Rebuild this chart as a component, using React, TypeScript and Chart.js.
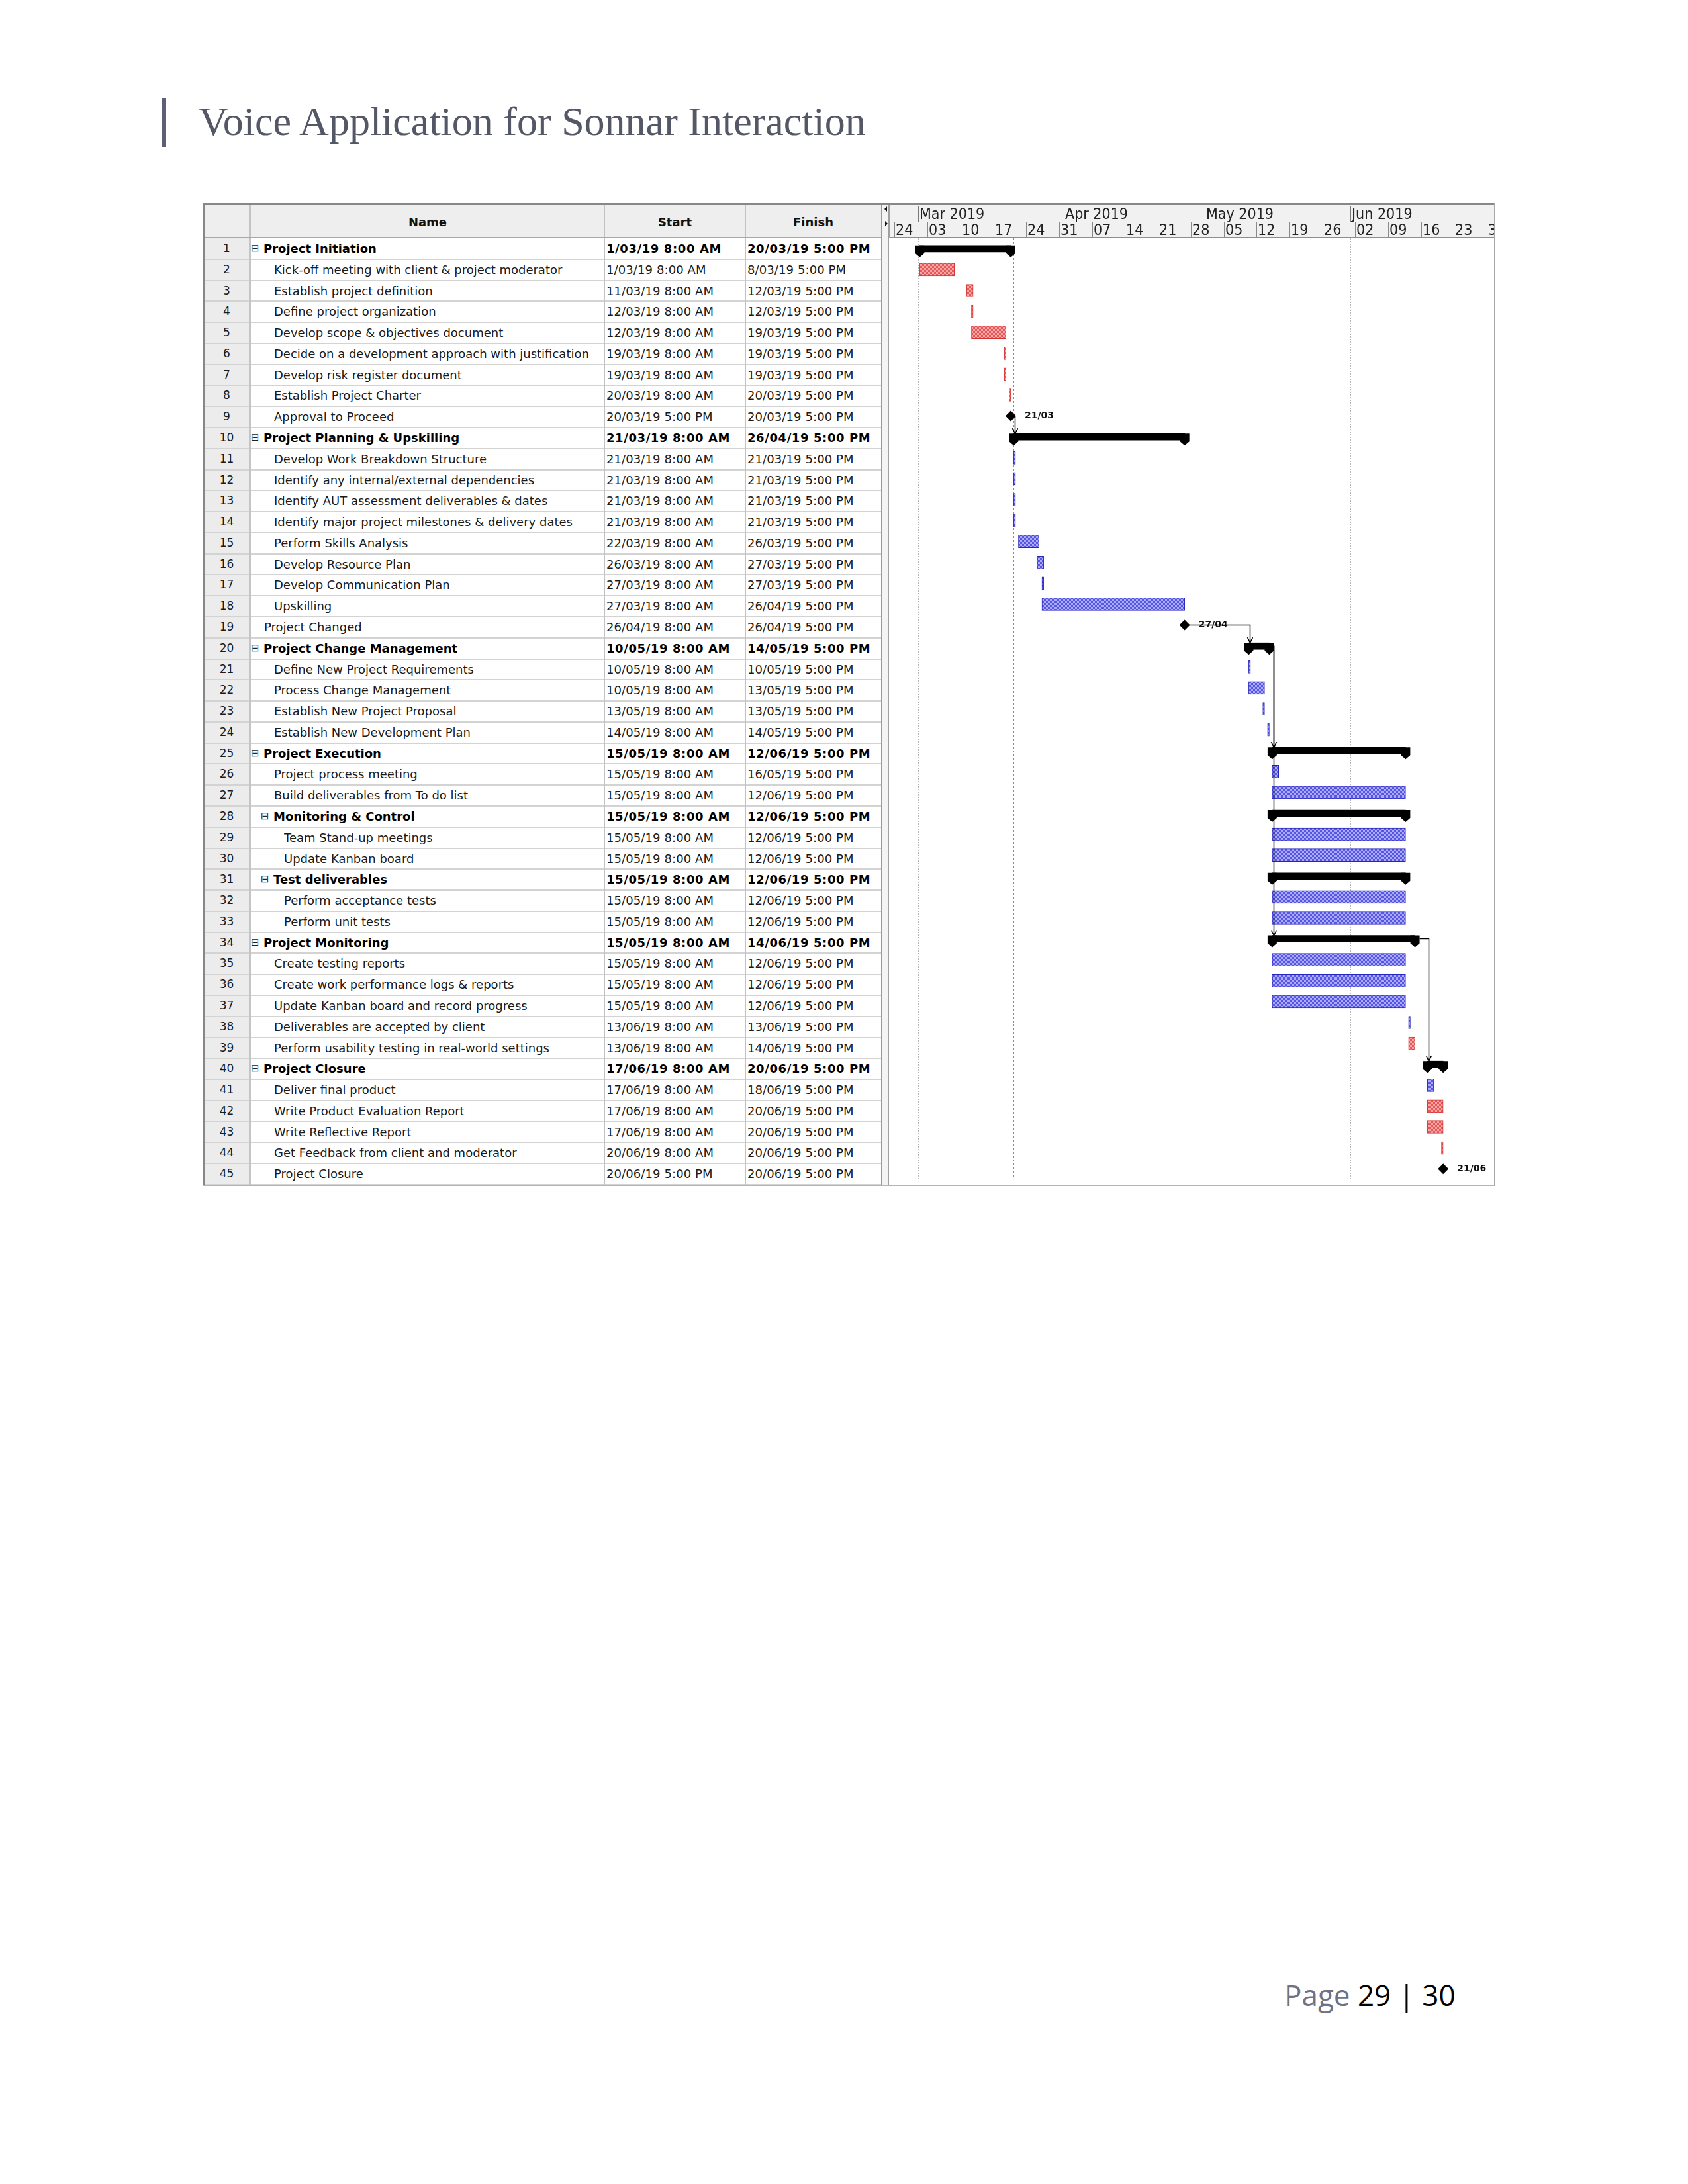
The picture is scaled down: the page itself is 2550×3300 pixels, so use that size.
import React, { useEffect, useRef } from "react";
import { Chart, registerables } from "chart.js";

Chart.register(...registerables);

// ---------------- DATA ----------------
const taskIds = [
  "1", "2", "3", "4", "5", "6", "7", "8", "9", "10",
  "11", "12", "13", "14", "15", "16", "17", "18", "19", "20",
  "21", "22", "23", "24", "25", "26", "27", "28", "29", "30",
  "31", "32", "33", "34", "35", "36", "37", "38", "39", "40",
  "41", "42", "43", "44", "45",
];

const taskNames = [
  "Project Initiation",
  "Kick-off meeting with client & project moderator",
  "Establish project definition",
  "Define project organization",
  "Develop scope & objectives document",
  "Decide on a development approach with justification",
  "Develop risk register document",
  "Establish Project Charter",
  "Approval to Proceed",
  "Project Planning & Upskilling",
  "Develop Work Breakdown Structure",
  "Identify any internal/external dependencies",
  "Identify AUT assessment deliverables & dates",
  "Identify major project milestones & delivery dates",
  "Perform Skills Analysis",
  "Develop Resource Plan",
  "Develop Communication Plan",
  "Upskilling",
  "Project Changed",
  "Project Change Management",
  "Define New Project Requirements",
  "Process Change Management",
  "Establish New Project Proposal",
  "Establish New Development Plan",
  "Project Execution",
  "Project process meeting",
  "Build deliverables from To do list",
  "Monitoring & Control",
  "Team Stand-up meetings",
  "Update Kanban board",
  "Test deliverables",
  "Perform acceptance tests",
  "Perform unit tests",
  "Project Monitoring",
  "Create testing reports",
  "Create work performance logs & reports",
  "Update Kanban board and record progress",
  "Deliverables are accepted by client",
  "Perform usability testing in real-world settings",
  "Project Closure",
  "Deliver final product",
  "Write Product Evaluation Report",
  "Write Reflective Report",
  "Get Feedback from client and moderator",
  "Project Closure",
];

const taskLevels = [
  0, 1, 1, 1, 1, 1, 1, 1, 1, 0,
  1, 1, 1, 1, 1, 1, 1, 1, 0, 0,
  1, 1, 1, 1, 0, 1, 1, 1, 2, 2,
  1, 2, 2, 0, 1, 1, 1, 1, 1, 0,
  1, 1, 1, 1, 1,
];

// S = summary, T = task, M = milestone
const taskKinds = [
  "S", "T", "T", "T", "T", "T", "T", "T", "M", "S",
  "T", "T", "T", "T", "T", "T", "T", "T", "M", "S",
  "T", "T", "T", "T", "S", "T", "T", "S", "T", "T",
  "S", "T", "T", "S", "T", "T", "T", "T", "T", "S",
  "T", "T", "T", "T", "M",
];

const startTexts = [
  "1/03/19 8:00 AM", "1/03/19 8:00 AM", "11/03/19 8:00 AM", "12/03/19 8:00 AM", "12/03/19 8:00 AM",
  "19/03/19 8:00 AM", "19/03/19 8:00 AM", "20/03/19 8:00 AM", "20/03/19 5:00 PM", "21/03/19 8:00 AM",
  "21/03/19 8:00 AM", "21/03/19 8:00 AM", "21/03/19 8:00 AM", "21/03/19 8:00 AM", "22/03/19 8:00 AM",
  "26/03/19 8:00 AM", "27/03/19 8:00 AM", "27/03/19 8:00 AM", "26/04/19 8:00 AM", "10/05/19 8:00 AM",
  "10/05/19 8:00 AM", "10/05/19 8:00 AM", "13/05/19 8:00 AM", "14/05/19 8:00 AM", "15/05/19 8:00 AM",
  "15/05/19 8:00 AM", "15/05/19 8:00 AM", "15/05/19 8:00 AM", "15/05/19 8:00 AM", "15/05/19 8:00 AM",
  "15/05/19 8:00 AM", "15/05/19 8:00 AM", "15/05/19 8:00 AM", "15/05/19 8:00 AM", "15/05/19 8:00 AM",
  "15/05/19 8:00 AM", "15/05/19 8:00 AM", "13/06/19 8:00 AM", "13/06/19 8:00 AM", "17/06/19 8:00 AM",
  "17/06/19 8:00 AM", "17/06/19 8:00 AM", "17/06/19 8:00 AM", "20/06/19 8:00 AM", "20/06/19 5:00 PM",
];

const finishTexts = [
  "20/03/19 5:00 PM", "8/03/19 5:00 PM", "12/03/19 5:00 PM", "12/03/19 5:00 PM", "19/03/19 5:00 PM",
  "19/03/19 5:00 PM", "19/03/19 5:00 PM", "20/03/19 5:00 PM", "20/03/19 5:00 PM", "26/04/19 5:00 PM",
  "21/03/19 5:00 PM", "21/03/19 5:00 PM", "21/03/19 5:00 PM", "21/03/19 5:00 PM", "26/03/19 5:00 PM",
  "27/03/19 5:00 PM", "27/03/19 5:00 PM", "26/04/19 5:00 PM", "26/04/19 5:00 PM", "14/05/19 5:00 PM",
  "10/05/19 5:00 PM", "13/05/19 5:00 PM", "13/05/19 5:00 PM", "14/05/19 5:00 PM", "12/06/19 5:00 PM",
  "16/05/19 5:00 PM", "12/06/19 5:00 PM", "12/06/19 5:00 PM", "12/06/19 5:00 PM", "12/06/19 5:00 PM",
  "12/06/19 5:00 PM", "12/06/19 5:00 PM", "12/06/19 5:00 PM", "14/06/19 5:00 PM", "12/06/19 5:00 PM",
  "12/06/19 5:00 PM", "12/06/19 5:00 PM", "13/06/19 5:00 PM", "14/06/19 5:00 PM", "20/06/19 5:00 PM",
  "18/06/19 5:00 PM", "20/06/19 5:00 PM", "20/06/19 5:00 PM", "20/06/19 5:00 PM", "20/06/19 5:00 PM",
];

// 1 = critical (red bar), 0 = normal (blue bar)
const criticalFlags = [
  0, 1, 1, 1, 1, 1, 1, 1, 0, 0,
  0, 0, 0, 0, 0, 0, 0, 0, 0, 0,
  0, 0, 0, 0, 0, 0, 0, 0, 0, 0,
  0, 0, 0, 0, 0, 0, 0, 0, 1, 0,
  0, 1, 1, 1, 0,
];

const milestoneLabelTexts = ["21/03", "27/04", "21/06"];
const milestoneRowIds = ["9", "19", "45"];

const linkPairs: [string, string][] = [
  ["9", "10"],
  ["19", "20"],
  ["20", "25"],
  ["20", "34"],
  ["34", "40"],
];

const weekTickDates = [
  "24/02/19", "3/03/19", "10/03/19", "17/03/19", "24/03/19", "31/03/19", "7/04/19",
  "14/04/19", "21/04/19", "28/04/19", "5/05/19", "12/05/19", "19/05/19", "26/05/19",
  "2/06/19", "9/06/19", "16/06/19", "23/06/19", "30/06/19",
];
const weekTickLabels = [
  "24", "03", "10", "17", "24", "31", "07", "14", "21", "28",
  "05", "12", "19", "26", "02", "09", "16", "23", "30",
];
const monthStartDates = ["1/03/19", "1/04/19", "1/05/19", "1/06/19"];
const monthLabels = ["Mar 2019", "Apr 2019", "May 2019", "Jun 2019"];

const viewStartText = "23/02/19 10:20 PM";
const viewEndText = "30/06/19 1:00 PM";
const todayText = "10/05/19 12:00 PM";
const markerText = "21/03/19 8:00 AM";

// ---------------- HELPERS ----------------
function parseStamp(s: string): number {
  const m = s.trim().match(/^(\d+)\/(\d+)\/(\d+)(?:\s+(\d+):(\d+)\s*(AM|PM))?$/);
  if (!m) return NaN;
  const d = +m[1];
  const mo = +m[2];
  const y = 2000 + +m[3];
  let h = m[4] ? +m[4] : 0;
  const mi = m[5] ? +m[5] : 0;
  if (m[6] === "PM" && h < 12) h += 12;
  if (m[6] === "AM" && h === 12) h = 0;
  return Date.UTC(y, mo - 1, d, h, mi) / 864e5;
}

const startVals = startTexts.map(parseStamp);
const finishVals = finishTexts.map(parseStamp);

// ---------------- LAYOUT ----------------
const TBL_LEFT = 307;
const TBL_TOP = 307;
const HEAD_TOP = 309;
const HEAD_BOTTOM = 360;
const BODY_BOTTOM = 1790;
const ROW_H = (BODY_BOTTOM - HEAD_BOTTOM) / taskIds.length;
const NUM_L = 309;
const NUM_R = 376;
const NAME_L = 379;
const NAME_R = 913;
const START_R = 1126;
const FINISH_R = 1331;
const GANTT_L = 1343;
const GANTT_R = 2258;

const TABLE_FONT = '"DejaVu Sans", "Noto Sans", sans-serif';
const NARROW_FONT = '"Liberation Sans Narrow", "Arial Narrow", "DejaVu Sans Condensed", sans-serif';

function makePattern(light: string, dark: string): CanvasPattern | string {
  const c = document.createElement("canvas");
  c.width = 2;
  c.height = 2;
  const g = c.getContext("2d");
  if (!g) return dark;
  g.fillStyle = light;
  g.fillRect(0, 0, 2, 2);
  g.fillStyle = dark;
  g.fillRect(0, 0, 1, 1);
  g.fillRect(1, 1, 1, 1);
  const ctx = document.createElement("canvas").getContext("2d");
  const p = ctx ? ctx.createPattern(c, "repeat") : null;
  return p || dark;
}

const ganttPlugin = {
  id: "ganttDecor",
  beforeDatasetsDraw(chart: any) {
    const { ctx, chartArea: a, scales } = chart;
    const x = scales.x;
    ctx.save();
    ctx.lineWidth = 1;
    ctx.strokeStyle = "#b8b8b8";
    ctx.setLineDash([2, 2]);
    monthStartDates.forEach((d) => {
      const px = Math.round(x.getPixelForValue(parseStamp(d))) + 0.5;
      ctx.beginPath();
      ctx.moveTo(px, a.top);
      ctx.lineTo(px, a.bottom);
      ctx.stroke();
    });
    ctx.strokeStyle = "#8a8a8a";
    ctx.setLineDash([3, 3]);
    {
      const px = Math.round(x.getPixelForValue(parseStamp(markerText))) + 0.5;
      ctx.beginPath();
      ctx.moveTo(px, a.top);
      ctx.lineTo(px, a.bottom);
      ctx.stroke();
    }
    ctx.strokeStyle = "#3ccf3c";
    ctx.setLineDash([2, 2]);
    {
      const px = Math.round(x.getPixelForValue(parseStamp(todayText))) + 0.5;
      ctx.beginPath();
      ctx.moveTo(px, a.top);
      ctx.lineTo(px, a.bottom);
      ctx.stroke();
    }
    ctx.restore();
  },
  afterDatasetsDraw(chart: any) {
    const { ctx, scales } = chart;
    const x = scales.x;
    const y = scales.y;
    ctx.save();
    const meta = chart.getDatasetMeta(1);
    ctx.fillStyle = "#000";
    meta.data.forEach((el: any, i: number) => {
      if (taskKinds[i] !== "S") return;
      const p = el.getProps(["x", "y", "base", "height"], true);
      const top = p.y - p.height / 2;
      const bot = p.y + p.height / 2;
      [p.base, p.x].forEach((cx: number) => {
        ctx.beginPath();
        ctx.moveTo(cx - 7, top);
        ctx.lineTo(cx + 7, top);
        ctx.lineTo(cx + 7, bot + 2);
        ctx.lineTo(cx, bot + 8);
        ctx.lineTo(cx - 7, bot + 2);
        ctx.closePath();
        ctx.fill();
      });
    });
    ctx.strokeStyle = "#000";
    ctx.lineWidth = 1.5;
    linkPairs.forEach(([fromId, toId]) => {
      const fi = taskIds.indexOf(fromId);
      const ti = taskIds.indexOf(toId);
      const fk = taskKinds[fi];
      const xf = x.getPixelForValue(finishVals[fi]) + (fk === "M" ? 8 : fk === "S" ? 7 : 0);
      const yf = y.getPixelForValue(fi);
      const xt = Math.round(x.getPixelForValue(startVals[ti]) + 2) + 0.5;
      const yt = y.getPixelForValue(ti) - (taskKinds[ti] === "S" ? 5 : 9.5);
      ctx.beginPath();
      ctx.moveTo(xf, yf);
      if (xt > xf) ctx.lineTo(xt, yf);
      else ctx.moveTo(xt, yf);
      ctx.lineTo(xt, yt);
      ctx.stroke();
      ctx.beginPath();
      ctx.moveTo(xt - 4, yt - 8);
      ctx.lineTo(xt, yt);
      ctx.lineTo(xt + 4, yt - 8);
      ctx.stroke();
    });
    ctx.fillStyle = "#111";
    ctx.font = 'bold 14px "DejaVu Sans", sans-serif';
    ctx.textBaseline = "middle";
    milestoneRowIds.forEach((id, k) => {
      const i = taskIds.indexOf(id);
      const px = x.getPixelForValue(finishVals[i]);
      const py = y.getPixelForValue(i);
      ctx.fillText(milestoneLabelTexts[k], px + 21, py);
    });
    ctx.restore();
  },
  afterDraw(chart: any) {
    const { ctx, chartArea: a, scales, width } = chart;
    const x = scales.x;
    const h = a.top;
    ctx.save();
    ctx.fillStyle = "#f1f1f1";
    ctx.fillRect(0, 0, width, h);
    ctx.fillStyle = "#a6a6a6";
    ctx.fillRect(0, 26, width, 1);
    ctx.fillStyle = "#8e8e8e";
    ctx.fillRect(0, h - 2, width, 2);
    ctx.fillStyle = "#a0a0a0";
    ctx.fillRect(0, 0, 1, h);
    ctx.font = `23px ${NARROW_FONT}`;
    ctx.textBaseline = "alphabetic";
    monthStartDates.forEach((d, k) => {
      const px = Math.round(x.getPixelForValue(parseStamp(d)));
      ctx.fillStyle = "#7a7a7a";
      ctx.fillRect(px, 3, 1, 23);
      ctx.fillStyle = "#222";
      ctx.fillText(monthLabels[k], px + 2, 22);
    });
    weekTickDates.forEach((d, k) => {
      const px = Math.round(x.getPixelForValue(parseStamp(d)));
      if (px > 2) {
        ctx.fillStyle = "#8a8a8a";
        ctx.fillRect(px, 27, 1, h - 29);
      }
      ctx.fillStyle = "#222";
      ctx.fillText(weekTickLabels[k], Math.max(px, 3) + 2, 46);
    });
    ctx.restore();
  },
};

export default function App() {
  const canvasRef = useRef<HTMLCanvasElement | null>(null);

  useEffect(() => {
    const canvas = canvasRef.current;
    if (!canvas) return;
    const redFill = makePattern("#ffa4a4", "#e05a5a");
    const blueFill = makePattern("#aaaaff", "#5656e2");

    const taskData = taskKinds.map((k, i) => (k === "T" ? [startVals[i], finishVals[i]] : null));
    const summaryData = taskKinds.map((k, i) => (k === "S" ? [startVals[i], finishVals[i]] : null));
    const milestoneData = taskKinds
      .map((k, i) => (k === "M" ? { x: finishVals[i], y: taskIds[i] } : null))
      .filter((p) => p !== null);

    const chart = new Chart(canvas, {
      type: "bar",
      data: {
        labels: taskIds,
        datasets: [
          {
            type: "bar",
            label: "Tasks",
            data: taskData as any,
            backgroundColor: criticalFlags.map((c) => (c ? redFill : blueFill)) as any,
            borderColor: criticalFlags.map((c) => (c ? "#d63434" : "#2626bf")),
            borderWidth: 1,
            borderSkipped: false,
            barThickness: 19,
            grouped: false,
          } as any,
          {
            type: "bar",
            label: "Summary",
            data: summaryData as any,
            backgroundColor: "#000",
            borderWidth: 0,
            barThickness: 10,
            grouped: false,
          } as any,
          {
            type: "scatter",
            label: "Milestones",
            data: milestoneData as any,
            pointStyle: "rectRot",
            pointRadius: 8,
            backgroundColor: "#000",
            borderColor: "#000",
            borderWidth: 0,
            showLine: false,
            clip: false,
          } as any,
        ],
      },
      options: {
        indexAxis: "y",
        responsive: false,
        animation: false,
        events: [],
        layout: { padding: { top: HEAD_BOTTOM - HEAD_TOP, left: 0, right: 0, bottom: 0 } },
        scales: {
          x: {
            type: "linear",
            min: parseStamp(viewStartText),
            max: parseStamp(viewEndText),
            display: false,
          },
          y: { type: "category", display: false, offset: true },
        },
        plugins: { legend: { display: false }, tooltip: { enabled: false } },
      } as any,
      plugins: [ganttPlugin],
    });
    return () => chart.destroy();
  }, []);

  const abs = (s: React.CSSProperties): React.CSSProperties => ({ position: "absolute", ...s });

  return (
    <div style={abs({ left: 0, top: 0, width: 2550, height: 3300, background: "#fff", overflow: "hidden" })}>
      {/* Title */}
      <div style={abs({ left: 245, top: 148, width: 6, height: 74, background: "#5d6072" })} />
      <div
        style={abs({
          left: 300,
          top: 152,
          fontFamily: '"Liberation Serif", "DejaVu Serif", serif',
          fontSize: 62,
          lineHeight: "62px",
          color: "#545766",
          whiteSpace: "nowrap",
        })}
      >
        Voice Application for Sonnar Interaction
      </div>

      {/* Table header */}
      <div style={abs({ left: NUM_L, top: HEAD_TOP, width: FINISH_R - NUM_L, height: HEAD_BOTTOM - HEAD_TOP, background: "#eeeeee" })} />
      {[
        { l: NAME_L, r: NAME_R, t: "Name" },
        { l: NAME_R, r: START_R, t: "Start" },
        { l: START_R, r: FINISH_R, t: "Finish" },
      ].map((c) => (
        <div
          key={c.t}
          style={abs({
            left: c.l,
            top: HEAD_TOP,
            width: c.r - c.l,
            height: HEAD_BOTTOM - HEAD_TOP,
            lineHeight: `${HEAD_BOTTOM - HEAD_TOP + 2}px`,
            textAlign: "center",
            fontFamily: TABLE_FONT,
            fontWeight: 700,
            fontSize: 18,
            color: "#111",
          })}
        >
          {c.t}
        </div>
      ))}

      {/* Row number column background */}
      <div style={abs({ left: NUM_L, top: HEAD_BOTTOM, width: NUM_R - NUM_L, height: BODY_BOTTOM - HEAD_BOTTOM, background: "#ececec" })} />

      {/* Rows */}
      {taskIds.map((id, i) => {
        const top = HEAD_BOTTOM + i * ROW_H;
        const isSum = taskKinds[i] === "S";
        const lvl = taskLevels[i];
        const textLeft = 399 + 15 * lvl - (isSum ? 1 : 0);
        const base: React.CSSProperties = {
          position: "absolute",
          top,
          height: ROW_H,
          lineHeight: `${ROW_H}px`,
          fontFamily: TABLE_FONT,
          whiteSpace: "nowrap",
          color: "#1a1a1a",
        };
        return (
          <React.Fragment key={id}>
            <div style={{ ...base, left: NUM_L, width: NUM_R - NUM_L, textAlign: "center", fontSize: 17 }}>{id}</div>
            {isSum && (
              <div style={{ ...base, left: 379 + 15 * lvl, fontSize: 15, color: "#222" }}>⊟</div>
            )}
            <div
              style={{
                ...base,
                left: textLeft,
                width: NAME_R - textLeft - 1,
                overflow: "hidden",
                fontSize: 18,
                fontWeight: isSum ? 700 : 400,
                color: isSum ? "#000" : "#1a1a1a",
              }}
            >
              {taskNames[i]}
            </div>
            <div
              style={{
                ...base,
                left: NAME_R + 3,
                fontSize: 18,
                fontWeight: isSum ? 700 : 400,
                letterSpacing: isSum ? 0.6 : 0.1,
                color: isSum ? "#000" : "#1a1a1a",
              }}
            >
              {startTexts[i]}
            </div>
            <div
              style={{
                ...base,
                left: START_R + 3,
                fontSize: 18,
                fontWeight: isSum ? 700 : 400,
                letterSpacing: isSum ? 0.6 : 0.1,
                color: isSum ? "#000" : "#1a1a1a",
              }}
            >
              {finishTexts[i]}
            </div>
            <div style={abs({ left: NUM_L, top: top + ROW_H - 1, width: FINISH_R - NUM_L, height: 2, background: "#d3d3d3" })} />
          </React.Fragment>
        );
      })}

      {/* Column lines */}
      <div style={abs({ left: NUM_R, top: HEAD_TOP, width: 3, height: BODY_BOTTOM - HEAD_TOP, background: "#c4c4c4" })} />
      <div style={abs({ left: NAME_R, top: HEAD_TOP, width: 1, height: BODY_BOTTOM - HEAD_TOP, background: "#c2c2c2" })} />
      <div style={abs({ left: START_R, top: HEAD_TOP, width: 1, height: BODY_BOTTOM - HEAD_TOP, background: "#c2c2c2" })} />
      <div style={abs({ left: NUM_L, top: HEAD_BOTTOM - 2, width: FINISH_R - NUM_L, height: 2, background: "#a8a8a8" })} />
      <div style={abs({ left: FINISH_R, top: TBL_TOP, width: 2, height: BODY_BOTTOM - TBL_TOP + 2, background: "#9a9a9a" })} />

      {/* Splitter */}
      <div style={abs({ left: FINISH_R + 2, top: TBL_TOP, width: GANTT_L - FINISH_R - 2, height: BODY_BOTTOM - TBL_TOP + 2, background: "#f4f4f4" })} />
      <div style={abs({ left: 1335, top: TBL_TOP, width: 1, height: BODY_BOTTOM - TBL_TOP + 2, background: "#b8b8b8" })} />
      <div style={abs({ left: GANTT_L - 2, top: TBL_TOP, width: 2, height: BODY_BOTTOM - TBL_TOP + 2, background: "#a0a0a0" })} />
      <div style={abs({ left: 1336, top: 312, width: 0, height: 0, borderTop: "4px solid transparent", borderBottom: "4px solid transparent", borderRight: "4px solid #111" })} />
      <div style={abs({ left: 1337, top: 334, width: 0, height: 0, borderTop: "4px solid transparent", borderBottom: "4px solid transparent", borderLeft: "4px solid #111" })} />

      {/* Gantt canvas */}
      <canvas
        ref={canvasRef}
        width={GANTT_R - GANTT_L}
        height={BODY_BOTTOM - HEAD_TOP}
        style={abs({ left: GANTT_L, top: HEAD_TOP, width: GANTT_R - GANTT_L, height: BODY_BOTTOM - HEAD_TOP })}
      />

      {/* Outer borders */}
      <div style={abs({ left: TBL_LEFT, top: TBL_TOP, width: GANTT_R - TBL_LEFT, height: 2, background: "#878787" })} />
      <div style={abs({ left: TBL_LEFT, top: TBL_TOP, width: 2, height: BODY_BOTTOM - TBL_TOP + 2, background: "#878787" })} />
      <div style={abs({ left: TBL_LEFT, top: BODY_BOTTOM, width: GANTT_R - TBL_LEFT, height: 2, background: "#b4b4b4" })} />
      <div style={abs({ left: GANTT_R - 1, top: TBL_TOP, width: 2, height: BODY_BOTTOM - TBL_TOP + 2, background: "#a8a8a8" })} />

      {/* Footer */}
      <div
        style={abs({
          left: 1940,
          top: 2992,
          fontFamily: '"Open Sans", "Noto Sans", sans-serif',
          fontSize: 44,
          lineHeight: "44px",
          whiteSpace: "nowrap",
        })}
      >
        <span style={{ color: "#6f7285" }}>Page </span>
        <span style={{ color: "#000" }}>29 | 30</span>
      </div>
    </div>
  );
}
